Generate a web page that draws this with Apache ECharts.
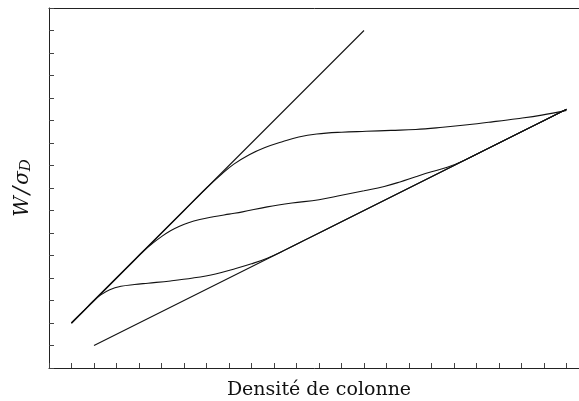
<!DOCTYPE html>
<html>
<head>
<meta charset="utf-8">
<script src="https://cdn.jsdelivr.net/npm/echarts@6/dist/echarts.min.js"></script>
<style>
  html, body { margin: 0; padding: 0; background: #fff; }
  #chart { width: 579px; height: 401px; }
</style>
</head>
<body>
<div id="chart"></div>
<script>
// Asymptotes: steep (optically thin) and shallow (saturated) regimes
const steepLine = [[1, 2], [14, 15]];
const shallowLine = [[2, 1], [23, 11.5]];

// Curves of growth for three parameter values
const curveHigh = [[1, 2], [2, 3], [3, 4], [4, 5], [5, 6], [6, 7], [7, 8.0], [7.6, 8.55],
  [8.2, 9.05], [8.9, 9.48], [9.6, 9.8], [10.4, 10.07], [11.1, 10.27], [11.9, 10.4],
  [13, 10.48], [14.1, 10.52], [15.2, 10.56], [16.3, 10.6], [17.5, 10.7], [18.6, 10.81],
  [19.7, 10.94], [20.8, 11.08], [21.9, 11.24], [23, 11.45]];
const curveMid = [[1, 2], [2, 3], [3, 4], [3.7, 4.7], [4.2, 5.2], [4.6, 5.54], [5, 5.84],
  [5.4, 6.1], [5.8, 6.3], [6.2, 6.46], [6.7, 6.6], [7.3, 6.72], [8, 6.84], [8.6, 6.94],
  [9.7, 7.16], [10.8, 7.33], [12, 7.48], [13, 7.68], [14, 7.88], [14.9, 8.07], [15.6, 8.27],
  [16.3, 8.5], [17, 8.72], [17.7, 8.92], [18.5, 9.25], [19.5, 9.75], [20.5, 10.25],
  [21.5, 10.75], [23, 11.5]];
const curveLow = [[1, 2], [1.5, 2.5], [2, 3.0], [2.3, 3.25], [2.7, 3.48], [3.2, 3.63],
  [3.8, 3.71], [4.4, 3.77], [5.4, 3.87], [6.4, 4.0], [7.4, 4.18], [8.3, 4.42], [9, 4.63],
  [9.7, 4.88], [10.5, 5.25], [11.5, 5.75], [13, 6.5], [15, 7.5], [17, 8.5], [19, 9.5],
  [21, 10.5], [23, 11.5]];

const xTitle = 'Densité de colonne';

const chart = echarts.init(document.getElementById('chart'), null, { renderer: 'canvas' });

const axisLineStyle = { color: '#222', width: 1 };
const serif = 'DejaVu Serif';

function lineSeries(data, smooth) {
  return {
    type: 'line',
    data: data,
    smooth: smooth,
    showSymbol: false,
    silent: true,
    lineStyle: { color: '#111', width: 1.1 },
    z: 3
  };
}

chart.setOption({
  animation: false,
  backgroundColor: '#fff',
  grid: { left: 49, top: 8, width: 540, bottom: 33, containLabel: false, outerBoundsMode: 'none' },
  xAxis: [
    {
      type: 'value', min: 0, max: 24, interval: 1, position: 'bottom',
      name: xTitle, nameLocation: 'middle', nameGap: 13,
      nameTextStyle: { fontFamily: serif, fontSize: 19, color: '#111' },
      axisLine: { show: true, lineStyle: axisLineStyle },
      axisTick: { show: true, inside: true, length: 5, lineStyle: { color: '#444' } },
      axisLabel: { show: false },
      splitLine: { show: false }
    },
    {
      type: 'value', min: 0, max: 24, position: 'top',
      axisLine: { show: true, onZero: false, lineStyle: axisLineStyle },
      axisTick: { show: false }, axisLabel: { show: false }, splitLine: { show: false }
    }
  ],
  yAxis: {
    type: 'value', min: 0, max: 16, interval: 1,
    name: '{i|W}{s|/}{i|σ}{sub|D}', nameLocation: 'middle', nameGap: 15, nameRotate: 90,
    nameTextStyle: {
      rich: {
        i: { fontFamily: serif, fontStyle: 'italic', fontSize: 20, color: '#111' },
        s: { fontFamily: serif, fontStyle: 'italic', fontSize: 22, color: '#111', padding: [0, 2, 0, 2] },
        sub: { fontFamily: serif, fontStyle: 'italic', fontSize: 15, color: '#111', padding: [8, 0, 0, 0] }
      }
    },
    axisLine: { show: true, onZero: false, lineStyle: axisLineStyle },
    axisTick: { show: true, inside: true, length: 5, lineStyle: { color: '#444' } },
    axisLabel: { show: false },
    splitLine: { show: false }
  },
  series: [
    lineSeries(steepLine, false),
    lineSeries(shallowLine, false),
    lineSeries(curveHigh, 0.4),
    lineSeries(curveMid, 0.4),
    lineSeries(curveLow, 0.4)
  ]
});
</script>
</body>
</html>
